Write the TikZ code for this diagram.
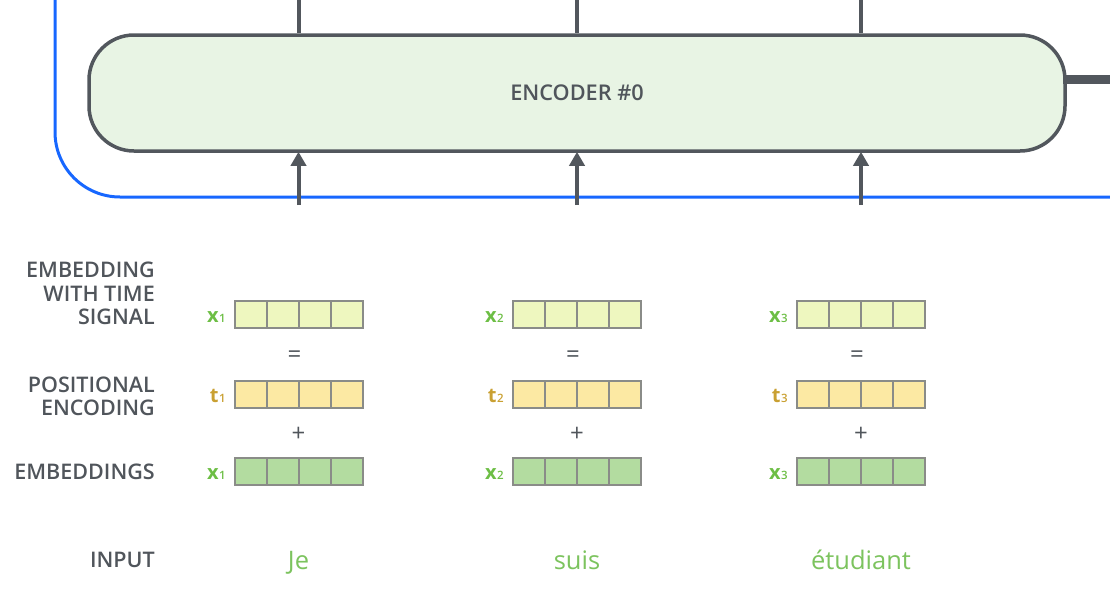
\documentclass[tikz,border=0pt]{standalone}
\usepackage{fontspec}
\setmainfont{Open Sans}
\newfontfamily\sbfont{Open Sans}[UprightFont=* Semibold]
\usetikzlibrary{arrows.meta}
\definecolor{txt}{HTML}{50555B}
\definecolor{encline}{HTML}{52575D}
\definecolor{encfill}{HTML}{E8F4E4}
\definecolor{blueline}{HTML}{1767FF}
\definecolor{cellline}{HTML}{8A8C88}
\definecolor{sigfill}{HTML}{EEF7BF}
\definecolor{posfill}{HTML}{FCE9A3}
\definecolor{embfill}{HTML}{B3DCA0}
\definecolor{xgreen}{HTML}{6DBE45}
\definecolor{tgold}{HTML}{C9A032}
\definecolor{ingreen}{HTML}{7CC35E}
\newcommand{\veclab}[2]{{\fontsize{20}{20}\selectfont\bfseries #1}\kern0.6pt\raisebox{-0.8pt}{\sbfont\fontsize{11.5}{11.5}\selectfont #2}}
\begin{document}
\begin{tikzpicture}[x=1pt,y=-1pt,
  encbox/.style={draw=encline, fill=encfill, line width=3.5pt, rounded corners=45pt,
    minimum width=976pt, minimum height=116pt, inner sep=0pt, text=txt,
    font=\sbfont\fontsize{21.7}{21.7}\selectfont},
  cell/.style={draw=cellline, line width=1.2pt, minimum width=32pt, minimum height=27pt, inner sep=0pt},
  sidelabel/.style={anchor=east, align=right, text=txt, inner sep=0pt,
    font=\sbfont\fontsize{21.5}{23.5}\selectfont},
  vlab/.style={anchor=base east, inner sep=0pt},
  opsign/.style={text=txt, inner sep=0pt, font=\fontsize{24}{24}\selectfont},
  inword/.style={text=ingreen, inner sep=0pt, anchor=base, font=\fontsize{25.5}{25.5}\selectfont},
  conn/.style={draw=encline, line width=4pt},
  arr/.style={draw=encline, line width=4pt, -{Triangle[length=14pt,width=15pt]}},
]
\useasboundingbox (0,0) rectangle (1110,592);

% blue loop
\coordinate (bTop) at (55,0);
\coordinate (bRight) at (1110,197);
\draw[blueline, line width=3pt, rounded corners=65pt] (bTop) |- (bRight);

% encoder
\node[encbox] (enc) at (577,93) {ENCODER \#0};

% right thick connector
\coordinate (rEnd) at (1110,79);
\draw[encline, line width=9pt] ([xshift=-4pt]rEnd -| enc.east) -- (rEnd);

% columns
\foreach \c/\cx/\vx in {1/298.5/235,2/577/513,3/861/797} {
  \coordinate (top\c) at (\cx,0);
  \coordinate (bot\c) at (\cx,205);
  \draw[conn] (top\c) -- (top\c |- enc.north);
  \draw[arr] (bot\c) -- ([yshift=1pt]bot\c |- enc.south);
  \foreach \r/\vy/\f in {s/314.5/sigfill, p/394.5/posfill, e/471.5/embfill} {
    \foreach \k in {0,...,3} {
      \node[cell, fill=\f] (\r\c-\k) at (\vx+16+32*\k, \vy) {};
    }
  }
  \node[vlab, text=xgreen] (ls\c) at (\vx-9,322) {\veclab{x}{\c}};
  \node[vlab, text=tgold] (lp\c) at (\vx-9,402) {\veclab{t}{\c}};
  \node[vlab, text=xgreen] (le\c) at (\vx-9,479) {\veclab{x}{\c}};
  \node[opsign] (eq\c) at (\cx-4,357) {=};
  \node[opsign] (pl\c) at (\cx,434) {+};
}

% side labels
\node[sidelabel] (lsig) at (155,293.5) {EMBEDDING\\WITH TIME\\SIGNAL};
\node[sidelabel] (lpos) at (155,396.5) {POSITIONAL\\ENCODING};
\node[sidelabel] (lemb) at (155,472) {EMBEDDINGS};
\node[sidelabel] (linp) at (155,560) {INPUT};

% input words
\node[inword] (w1) at (298.5,569.5) {Je};
\node[inword] (w2) at (577,569.5) {suis};
\node[inword] (w3) at (861,569.5) {étudiant};
\end{tikzpicture}
\end{document}
